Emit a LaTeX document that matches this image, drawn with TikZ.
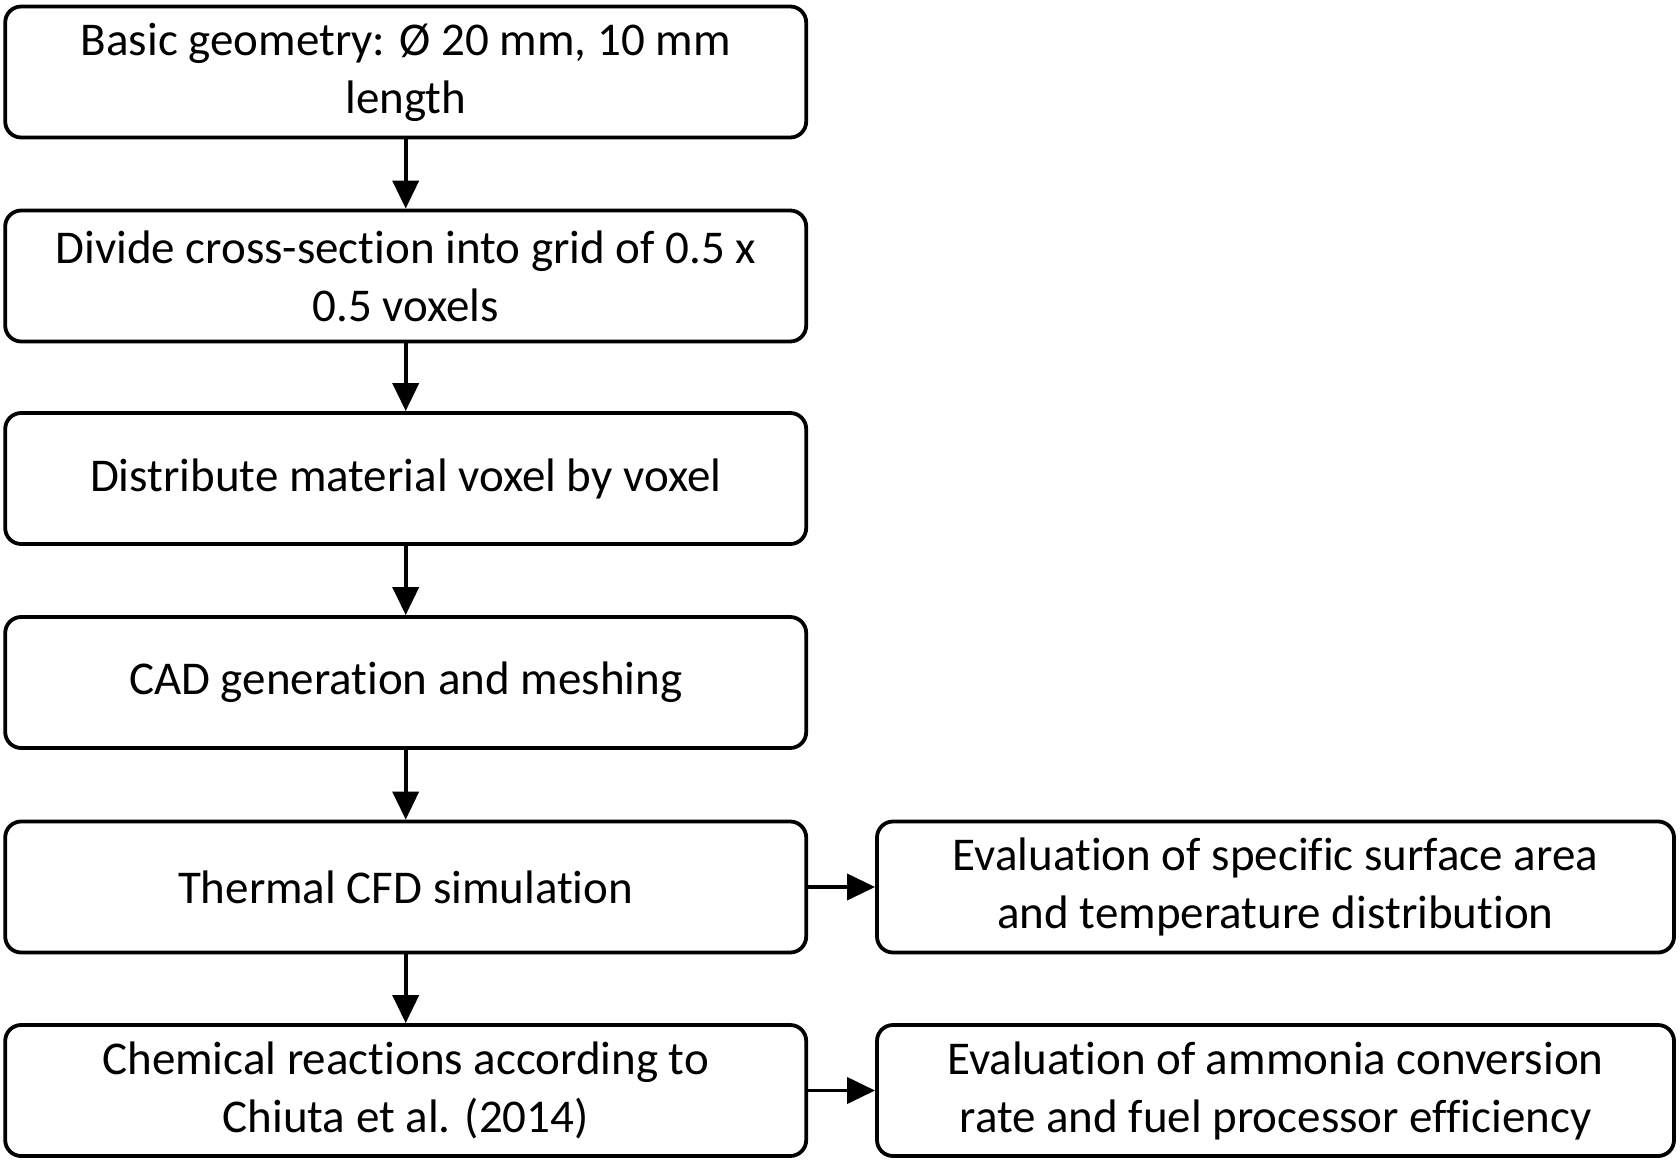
\documentclass[tikz,border=0pt]{standalone}
\usepackage{fontspec}
\setmainfont{Carlito}[Ligatures=NoCommon]
\usetikzlibrary{arrows.meta}
\begin{document}
\begin{tikzpicture}[x=0.5pt,y=-0.5pt,
	box/.style = {draw, line width=1.9pt, rounded corners=8pt, align=center,
		minimum height=65.5pt, inner sep=0pt,
		font=\fontsize{23.5}{29}\selectfont},
	lbox/.style = {box, minimum width=400.5pt},
	rbox/.style = {box, minimum width=398.5pt},
	arr/.style = {line width=1.9pt, -{Triangle[length=14pt,width=13pt]}}]

\useasboundingbox (0,0) rectangle (1680,1161);

\node[lbox] (a) at (405.7,72) {Basic geometry: Ø 20 mm, 10 mm\\length};
\node[lbox] (b) at (405.7,276) {Divide cross-section into grid of 0.5 x\\0.5 voxels};
\node[lbox] (c) at (405.7,478.5) {Distribute material voxel by voxel};
\node[lbox] (d) at (405.7,682.5) {CAD generation and meshing};
\node[lbox] (e) at (405.7,887) {Thermal CFD simulation};
\node[lbox] (f) at (405.7,1090.5) {Chemical reactions according to\\Chiuta et al. (2014)};
\node[rbox] (g) at (1275.5,887) {Evaluation of specific surface area\\and temperature distribution};
\node[rbox] (h) at (1275.5,1090.5) {Evaluation of ammonia conversion\\rate and fuel processor efficiency};

\foreach \from/\to in {a/b,b/c,c/d,d/e,e/f}
{
	\draw[arr] (\from) -- (\to);
};
\draw[arr] (e) -- (g);
\draw[arr] (f) -- (h);
\end{tikzpicture}
\end{document}
